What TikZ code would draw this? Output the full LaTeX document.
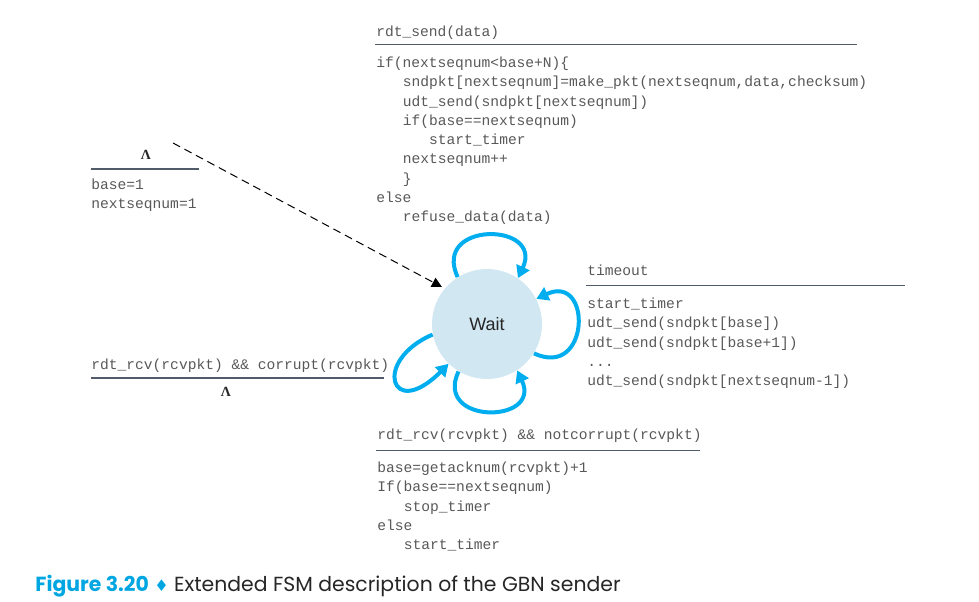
\documentclass[tikz,border=0pt]{standalone}
\usepackage{fontspec}
\setmonofont{Liberation Mono}
\setsansfont{Liberation Sans}
\newfontfamily\symfont{DejaVu Sans}
\newfontfamily\capfont{Poppins}
\newfontfamily\lambdafont{Liberation Serif}
\usepackage{tikz}
\usetikzlibrary{arrows.meta}
\usepackage{xcolor}
\definecolor{waitblue}{RGB}{209,231,241}
\definecolor{loopcyan}{RGB}{0,174,239}
\definecolor{rulegray}{RGB}{80,92,105}
\definecolor{codegray}{RGB}{88,88,88}
\definecolor{capcyan}{RGB}{0,166,226}
\newcommand{\codesize}{\ttfamily\fontsize{7.3}{9.65}\selectfont}
\newcommand{\codeind}{\hspace*{13.2pt}}
\newcommand{\firstln}{\rule{0pt}{6.5pt}}
\tikzset{
  statenode/.style={circle,fill=waitblue,minimum size=55pt,inner sep=0pt,
    font=\sffamily\fontsize{9}{10}\selectfont,text=black!85},
  evtext/.style={font=\codesize,text=codegray,inner sep=0pt,anchor=base west},
  acttext/.style={font=\codesize,text=codegray,inner sep=0pt,align=left,anchor=north west},
  lambdatext/.style={font=\lambdafont\bfseries\fontsize{7}{8}\selectfont,text=black!85,inner sep=0pt,anchor=base},
  barline/.style={draw=rulegray,line width=0.9pt},
  looparrow/.style={draw=loopcyan,line width=2pt,-{Triangle[length=6pt,width=7pt]}},
  initarrow/.style={line width=0.5pt,dash pattern=on 4pt off 2.5pt,
    -{Triangle[length=5pt,width=5pt]},shorten >=1.5pt}
}

\begin{document}
\begin{tikzpicture}[x=0.5pt,y=0.5pt]
  \useasboundingbox (0,0) rectangle (979,-601);
  \node[statenode] (wait) at (487,-324) {Wait};
  % rdt_send
  \node[evtext] (sendev) at (376,-36) {rdt\_send(data)};
  \draw[barline] (375,-44.5) -- (857,-44.5);
  \node[acttext] (sendact) at (376,-54) {\firstln if(nextseqnum<base+N)\{\\
    \codeind sndpkt[nextseqnum]=make\_pkt(nextseqnum,data,checksum)\\
    \codeind udt\_send(sndpkt[nextseqnum])\\
    \codeind if(base==nextseqnum)\\
    \codeind\codeind start\_timer\\
    \codeind nextseqnum++\\
    \codeind \}\\
    else\\
    \codeind refuse\_data(data)};
  % init
  \node[lambdatext] (initev) at (146,-159) {Λ};
  \draw[barline] (91,-169) -- (199,-169);
  \node[acttext] (initact) at (91,-176) {\firstln base=1\\nextseqnum=1};
  \coordinate (initsrc) at (173,-143);
  % timeout
  \node[evtext] (toev) at (587,-275) {timeout};
  \draw[barline] (586,-285.5) -- (905,-285.5);
  \node[acttext] (toact) at (587,-295) {\firstln start\_timer\\
    udt\_send(sndpkt[base])\\
    udt\_send(sndpkt[base+1])\\
    ...\\
    udt\_send(sndpkt[nextseqnum-1])};
  % corrupt
  \node[evtext] (badev) at (91,-369) {rdt\_rcv(rcvpkt) \&\& corrupt(rcvpkt)};
  \draw[barline] (91,-378) -- (384,-378);
  \node[lambdatext] (badact) at (226,-396) {Λ};
  % notcorrupt
  \node[evtext] (ackev) at (377,-439) {rdt\_rcv(rcvpkt) \&\& notcorrupt(rcvpkt)};
  \draw[barline] (376,-450.5) -- (700,-450.5);
  \node[acttext] (ackact) at (377,-459) {\firstln base=getacknum(rcvpkt)+1\\
    If(base==nextseqnum)\\
    \codeind stop\_timer\\
    else\\
    \codeind start\_timer};
  % transitions
  \draw[initarrow] (initsrc) -- (wait.140);
  \draw[looparrow] (wait.122) .. controls +(115:62) and +(65:62) .. (wait.56);
  \draw[looparrow] (wait.-32) .. controls +(-25:62) and +(25:62) .. (wait.27);
  \draw[looparrow] (wait.-121) .. controls +(-115:59) and +(-65:59) .. (wait.-57);
  \draw[looparrow] (wait.191) .. controls +(203:66) and +(225:82) .. (wait.226);
  \node[anchor=base west,inner sep=0pt,font=\capfont\fontsize{10.2}{12}\selectfont,text=black!85]
    (caption) at (35,-591)
    {{\bfseries\color{capcyan}Figure 3.20} {\color{capcyan}\symfont\fontsize{8}{10}\selectfont ♦} Extended FSM description of the GBN sender};
\end{tikzpicture}
\end{document}
